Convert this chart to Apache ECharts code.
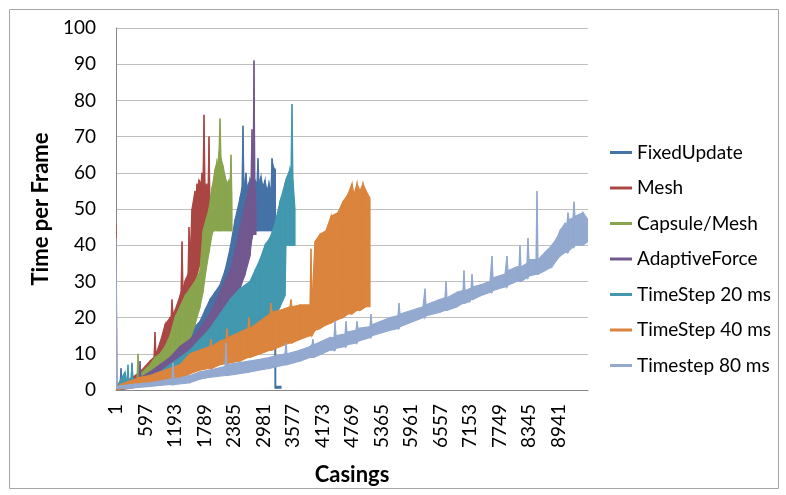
<!DOCTYPE html>
<html>
<head>
<meta charset="utf-8">
<script src="https://cdn.jsdelivr.net/npm/echarts@6/dist/echarts.min.js"></script>
<style>
  html, body { margin: 0; padding: 0; background: #fff; }
  #chart { width: 786px; height: 495px; }
</style>
</head>
<body>
<div id="chart"></div>
<script>
// each point: [casing, low edge, high edge] of the noisy band
const fixedUpdate = [
  [0,0,1],[81,0.5,1.5],[101,0.5,6],[121,0.5,1.5],[303,1,2],[323,1,7],[343,1,2.5],[485,1.5,3],
  [686,2,5],[888,3,8],[1090,4,11],[1292,6,14],[1494,8,16],[1696,9,19],[1797,11,22],[1898,13,25],
  [1999,15,27],[2100,17,29],[2201,19,33],[2302,22,39],[2403,26,47],[2504,30,53],[2544,32,56],
  [2564,33,73],[2584,34,56],[2625,36,60],[2645,37,56],[2705,41,58],[2766,44,55],[2806,44,58],
  [2846,44,57],[2867,44,64],[2887,44,57],[2927,44,59],[2967,44,56],[3008,44,58],[3048,44,55],
  [3089,44,57],[3130,44,55],[3150,44,64],[3170,44,62],[3200,44,61],[3215,0.5,61],[3225,0.5,1],
  [3331,0.5,1]
];
const mesh = [
  [0,0.5,46],[20,0.5,1.5],[283,0.5,3],[485,1.5,5],[686,3,8],[767,4,9],[787,5,16],[807,5,10],
  [888,6,13],[989,8,18],[1090,10,20],[1111,11,20],[1131,11,25],[1151,12,21],[1191,13,22],
  [1292,15,26],[1313,16,27],[1333,16,41],[1353,17,28],[1393,19,30],[1454,22,32],[1474,23,45],
  [1494,24,36],[1534,27,50],[1595,30,55],[1616,31,53],[1636,32,57],[1656,33,55],[1676,34,58],
  [1716,36,57],[1737,37,60],[1757,37,58],[1777,38,76],[1797,39,57],[1817,40,55],[1837,41,57],
  [1857,42,54],[1878,42,70],[1898,43,50],[1918,43,48]
];
const capsuleMesh = [
  [0,0,0.5],[283,0.5,2],[424,1,3],[444,1,10],[464,1,4],[686,2,7],[787,3,9],[888,4,10],
  [989,5,12],[1090,7,15],[1191,9,20],[1292,11,23],[1393,13,26],[1494,14,28],[1595,18,30],
  [1696,23,33],[1757,27,44],[1817,33,47],[1878,38,50],[1938,43,56],[1968,44,58],[1999,44,61],
  [2039,44,63],[2059,44,62],[2080,44,66],[2100,44,75],[2120,44,64],[2160,44,62],[2201,44,59],
  [2241,44,57],[2281,44,58],[2302,44,56],[2322,44,65],[2342,44,52]
];
const adaptiveForce = [
  [0,0,0.5],[283,0.5,2],[465,1,3],[485,1,8],[505,1,3.5],[686,2,5],[888,3,7],[1090,4,9],
  [1292,6,12],[1494,7,14],[1696,9,17],[1898,12,21],[2100,16,27],[2302,21,33],[2403,24,38],
  [2504,28,45],[2605,32,51],[2705,37,57],[2726,40,58],[2746,42,72],[2766,43,58],[2786,43,91],
  [2806,43,55],[2826,43,50]
];
const timeStep20 = [
  [0,0,0.5],[182,0.5,5],[222,0.5,2],[242,0.5,7],[262,0.5,2],[303,1,3],[323,1,7.5],[343,1,3],
  [485,1,3],[686,1.5,4],[888,2,5],[1090,3,7],[1292,4,9],[1494,5,11],[1696,6,14],[1898,7,17],
  [2100,8,21],[2302,9,25],[2504,10,28],[2705,11,30],[2806,12,33],[2907,14,36],[3008,16,40],
  [3109,18,42],[3210,20,46],[3311,23,52],[3412,26,57],[3432,40,58],[3513,40,61],[3533,40,60],
  [3553,40,79],[3573,40,58],[3614,40,50]
];
const timeStep40 = [
  [0,0,0.5],[81,0.3,1.5],[283,0.5,2.5],[485,1,3.5],[686,1.5,4],[888,2,5],[1090,2.5,6],
  [1292,3,7],[1494,4.5,10],[1696,5.5,11],[1898,6,12],[1918,6,14],[1938,6,12],[2100,7,13.5],
  [2221,7.3,14],[2241,7.3,17],[2261,7.4,14.5],[2504,8,16],[2665,9,17],[2685,9,20],[2705,9,17],
  [2907,10,19],[3109,11,21],[3129,11,24],[3149,11,21.5],[3311,12,22],[3513,13,23],[3533,13,25],
  [3553,13,23],[3715,14,23.5],[3917,15,23.5],[3937,15,39],[3957,15,24],[4018,16.5,41],
  [4119,17,43],[4240,18,44],[4341,18.5,48],[4482,19.5,49],[4583,20,52],[4684,21,54],
  [4765,21,57],[4805,21.5,54],[4866,22,57],[4926,22,55],[4987,22.5,57],[5047,23,55],[5128,23,53]
];
const timeStep80 = [
  [0,0.5,42],[20,0.5,1],[283,0.5,1.5],[686,1,2],[1090,1.5,3],[1131,1.5,3],[1151,1.5,7.5],
  [1171,1.5,3],[1494,2,4],[1696,3,5],[1898,3.5,5.5],[2201,4,6.5],[2221,4,13],[2241,4,7],
  [2705,5,8],[3109,6,9],[3412,7,10],[3432,7,13],[3452,7,10],[3715,8,11],[3917,9,12],
  [3957,9,12.5],[3977,9,14],[3997,9,12.5],[4321,11,14.5],[4402,11,14.5],[4422,11,19],
  [4442,11.5,15],[4624,12,15.5],[4644,12,19],[4664,12.5,16],[4846,13,16.5],[4866,13,19],
  [4886,13.5,17],[5128,14.5,17.5],[5148,14.5,21],[5168,15,18],[5532,16.5,20],[5694,17,20.5],
  [5714,17,24],[5734,17.5,21],[6198,20,23],[6239,20,28],[6259,20.5,23.5],[6542,21.5,25],
  [6643,22,25.5],[6663,22,30],[6683,22,25.5],[6885,23,27],[7006,24,27.5],[7026,24,33],
  [7046,24,27.5],[7147,24.5,28],[7168,25,28],[7188,25,32],[7208,25,28.5],[7349,26,29],
  [7551,27,30],[7591,27,37],[7611,27.5,31],[7854,28.5,32],[7894,28.5,37],[7914,29,33],
  [8096,30,34],[8137,30,34],[8157,30,40],[8177,30,34],[8298,31,35],[8318,31,42],[8338,31.5,36],
  [8480,32,36],[8500,32,55],[8520,32,36],[8661,33,38],[8803,34,40],[8904,36,42],[8964,37,44],
  [9065,38,46],[9106,38,46],[9126,38,49],[9146,38.5,47],[9227,39.5,47.5],[9247,39.5,52],
  [9267,40,48],[9429,40,49],[9530,41,47]
];

const seriesNames = ['FixedUpdate', 'Mesh', 'Capsule/Mesh', 'AdaptiveForce',
  'TimeStep 20 ms', 'TimeStep 40 ms', 'Timestep 80 ms'];
const seriesColors = ['#4572A7', '#AA4643', '#89A54E', '#71588F', '#4198AF', '#DB843D', '#93A9CF'];
const bands = [fixedUpdate, mesh, capsuleMesh, adaptiveForce, timeStep20, timeStep40, timeStep80];
const xTickLabels = ['1', '597', '1193', '1789', '2385', '2981', '3577', '4173', '4769',
  '5365', '5961', '6557', '7153', '7749', '8345', '8941'];

// fill the strip between two neighbouring samples of a band
function bandSegment(color) {
  return function (params, api) {
    const i = params.dataIndexInside;
    if (i >= params.dataInsideLength - 1) return null;
    const a = [api.value(0, i), api.value(1, i), api.value(2, i)];
    const b = [api.value(0, i + 1), api.value(1, i + 1), api.value(2, i + 1)];
    return {
      type: 'polygon',
      shape: {
        points: [
          api.coord([a[0], a[2]]), api.coord([b[0], b[2]]),
          api.coord([b[0], b[1]]), api.coord([a[0], a[1]])
        ]
      },
      style: { fill: color, stroke: color, lineWidth: 1.2 }
    };
  };
}

const series = bands.map(function (band, i) {
  return {
    name: seriesNames[i],
    type: 'custom',
    renderItem: bandSegment(seriesColors[i]),
    itemStyle: { color: seriesColors[i] },
    encode: { x: 0, y: [1, 2] },
    clip: true,
    silent: true,
    data: band
  };
});

const chart = echarts.init(document.getElementById('chart'));
chart.setOption({
  animation: false,
  textStyle: { fontFamily: 'Lato' },
  graphic: [{
    type: 'rect',
    shape: { x: 9.5, y: 9.5, width: 769, height: 479 },
    style: { fill: 'none', stroke: '#a6a6a6', lineWidth: 1 }
  }],
  grid: { left: 116, top: 28, width: 472, height: 362 },
  legend: {
    data: seriesNames,
    orient: 'vertical',
    left: 605,
    top: 138,
    icon: 'rect',
    itemWidth: 22,
    itemHeight: 3,
    itemGap: 16.5,
    textStyle: { fontSize: 19, color: '#000' }
  },
  xAxis: {
    type: 'value',
    min: 0,
    max: 9530,
    interval: 596,
    name: 'Casings',
    nameLocation: 'middle',
    nameGap: 74,
    nameTextStyle: { fontSize: 22, fontWeight: 'bold', color: '#000' },
    axisLine: { lineStyle: { color: '#868686' } },
    axisTick: { show: false },
    splitLine: { show: false },
    axisLabel: {
      rotate: 90,
      fontSize: 19,
      color: '#000',
      margin: 14,
      showMaxLabel: false,
      formatter: v => xTickLabels[Math.round(v / 596)] || ''
    }
  },
  yAxis: {
    type: 'value',
    min: 0,
    max: 100,
    interval: 10,
    name: 'Time per Frame',
    nameLocation: 'middle',
    nameGap: 56,
    nameTextStyle: { fontSize: 22, fontWeight: 'bold', color: '#000' },
    axisLine: { show: true, lineStyle: { color: '#868686' } },
    axisTick: { show: false },
    splitLine: { lineStyle: { color: '#bfbfbf', width: 1 } },
    axisLabel: { fontSize: 19, color: '#000', margin: 20 }
  },
  series: series
});
</script>
</body>
</html>
